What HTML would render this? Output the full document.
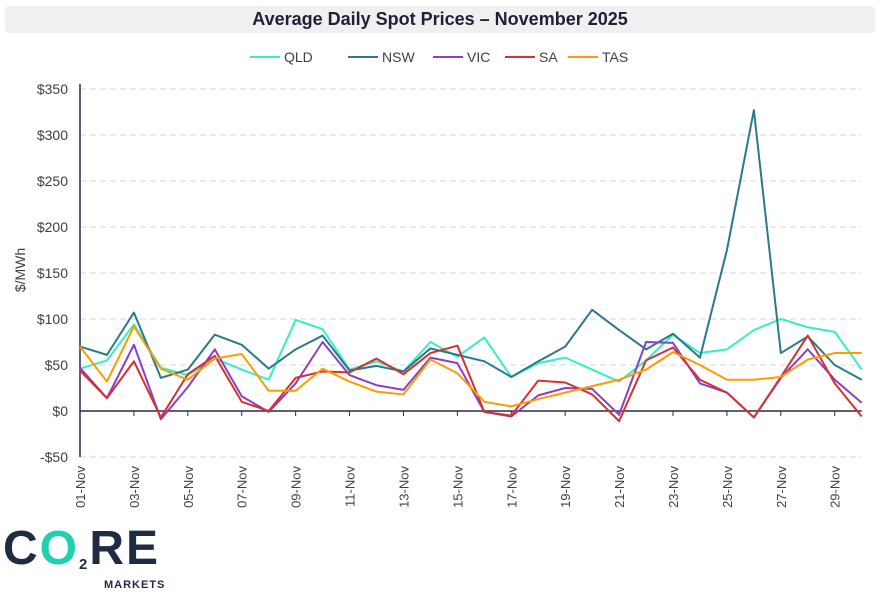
<!DOCTYPE html>
<html><head><meta charset="utf-8"><style>
body{margin:0;background:#fff;font-family:"Liberation Sans",sans-serif;}
#wrap{position:relative;width:881px;height:599px;overflow:hidden;}
#title{position:absolute;left:5px;top:6px;width:870px;height:27px;background:#f0f0f0;border-radius:4px;text-align:center;font-weight:bold;font-size:18px;line-height:27px;color:#1f1f3a;}
</style></head><body>
<div id="wrap">
<div id="title">Average Daily Spot Prices – November 2025</div>
<svg id="chart" width="881" height="599" style="position:absolute;left:0;top:0"></svg>
<div style="position:absolute;left:3px;top:522px;font-weight:bold;font-size:48px;color:#1f2a44;letter-spacing:2px;line-height:54px;">C<span style="color:#1fd1b0">O</span><span style="font-size:15px;color:#1f2a44;vertical-align:-5px">2</span>RE</div>
<div style="position:absolute;left:104px;top:579px;font-weight:bold;font-size:11px;color:#1f2a44;letter-spacing:1px;">MARKETS</div>
</div>
<script>
const categories=["01-Nov","02-Nov","03-Nov","04-Nov","05-Nov","06-Nov","07-Nov","08-Nov","09-Nov","10-Nov","11-Nov","12-Nov","13-Nov","14-Nov","15-Nov","16-Nov","17-Nov","18-Nov","19-Nov","20-Nov","21-Nov","22-Nov","23-Nov","24-Nov","25-Nov","26-Nov","27-Nov","28-Nov","29-Nov","30-Nov"];
const seriesNames=["QLD","NSW","VIC","SA","TAS"];
const qld=[46,55,94,47,39,57,45,34,99,89,45,54,43,75,59,80,37,52,58,45,32,55,83,63,67,88,100,91,86,45];
const nsw=[70,61,107,36,45,83,72,46,67,82,44,49,43,68,61,54,37,54,70,110,88,67,84,58,175,327,63,81,50,34];
const vic=[47,14,72,-9,26,67,16,-1,30,75,39,28,23,58,52,-1,-6,17,25,24,-4,75,74,30,20,-7,36,67,34,9];
const sa=[44,14,54,-7,40,60,10,0,36,43,42,57,40,63,71,-1,-5,33,31,18,-11,55,69,34,20,-7,37,82,30,-6];
const tas=[70,32,92,46,34,57,62,22,22,46,32,21,18,56,41,10,5,13,20,27,34,45,64,50,34,34,37,56,63,63];
const yTicks=[-50,0,50,100,150,200,250,300,350];
const yTickLabels=["-$50","$0","$50","$100","$150","$200","$250","$300","$350"];
const colors=["#33f0c4","#2a7a8c","#8a3fc4","#d63030","#ff9a00"];
const svg=document.getElementById('chart');
const NS="http://www.w3.org/2000/svg";
const x0=80,x1=861.7,yZero=411,pxPer=0.92;
function xs(i){return x0+i*(x1-x0)/(categories.length-1);}
function ys(v){return yZero-v*pxPer;}
function mk(t,a){const e=document.createElementNS(NS,t);for(const k in a)e.setAttribute(k,a[k]);svg.appendChild(e);return e;}
yTicks.forEach((v,i)=>{
  if(v!==0){const g=mk('line',{x1:x0,x2:x1,y1:ys(v),y2:ys(v),stroke:'#d4d4e0','stroke-dasharray':'6,4'});
  
  }
  const t=mk('text',{x:68,y:ys(v)+5,'text-anchor':'end','font-size':'14',fill:'#404040','font-family':'Liberation Sans'});
  t.textContent=yTickLabels[i];
  
  
});
const ya=mk('line',{x1:x0,x2:x0,y1:ys(350)-5,y2:ys(-50),stroke:'#2a2a4a','stroke-width':1.5});


const xa=mk('line',{x1:x0,x2:x1,y1:yZero,y2:yZero,stroke:'#2a2a4a','stroke-width':1.5});


categories.forEach((c,i)=>{
  if(i%2===0){
    if(i>0){const tk=mk('line',{x1:xs(i),x2:xs(i),y1:yZero,y2:yZero+5,stroke:'#2a2a4a'});
    
    }
    const t=mk('text',{x:0,y:0,'text-anchor':'end','font-size':'13',fill:'#404040','font-family':'Liberation Sans',transform:`translate(${xs(i)+5},466) rotate(-90)`});
    t.textContent=c;
    
    
  }
});
const yt=mk('text',{x:0,y:0,'text-anchor':'middle','font-size':'14',fill:'#404040','font-family':'Liberation Sans',transform:'translate(25,270) rotate(-90)'});
yt.textContent='$/MWh';


[qld,nsw,vic,sa,tas].forEach((arr,s)=>{
  const p=mk('polyline',{points:arr.map((v,i)=>xs(i)+','+ys(v)).join(' '),fill:'none',stroke:colors[s],'stroke-width':2,'stroke-linejoin':'round'});
  
  
});
const lx=[250,348,433,505,568];
seriesNames.forEach((n,s)=>{
  const l=mk('line',{x1:lx[s],x2:lx[s]+30,y1:57,y2:57,stroke:colors[s],'stroke-width':2});
  
  
  const t=mk('text',{x:lx[s]+34,y:62,'font-size':'14',fill:'#404040','font-family':'Liberation Sans'});
  t.textContent=n;
  
  
});
</script>
</body></html>
